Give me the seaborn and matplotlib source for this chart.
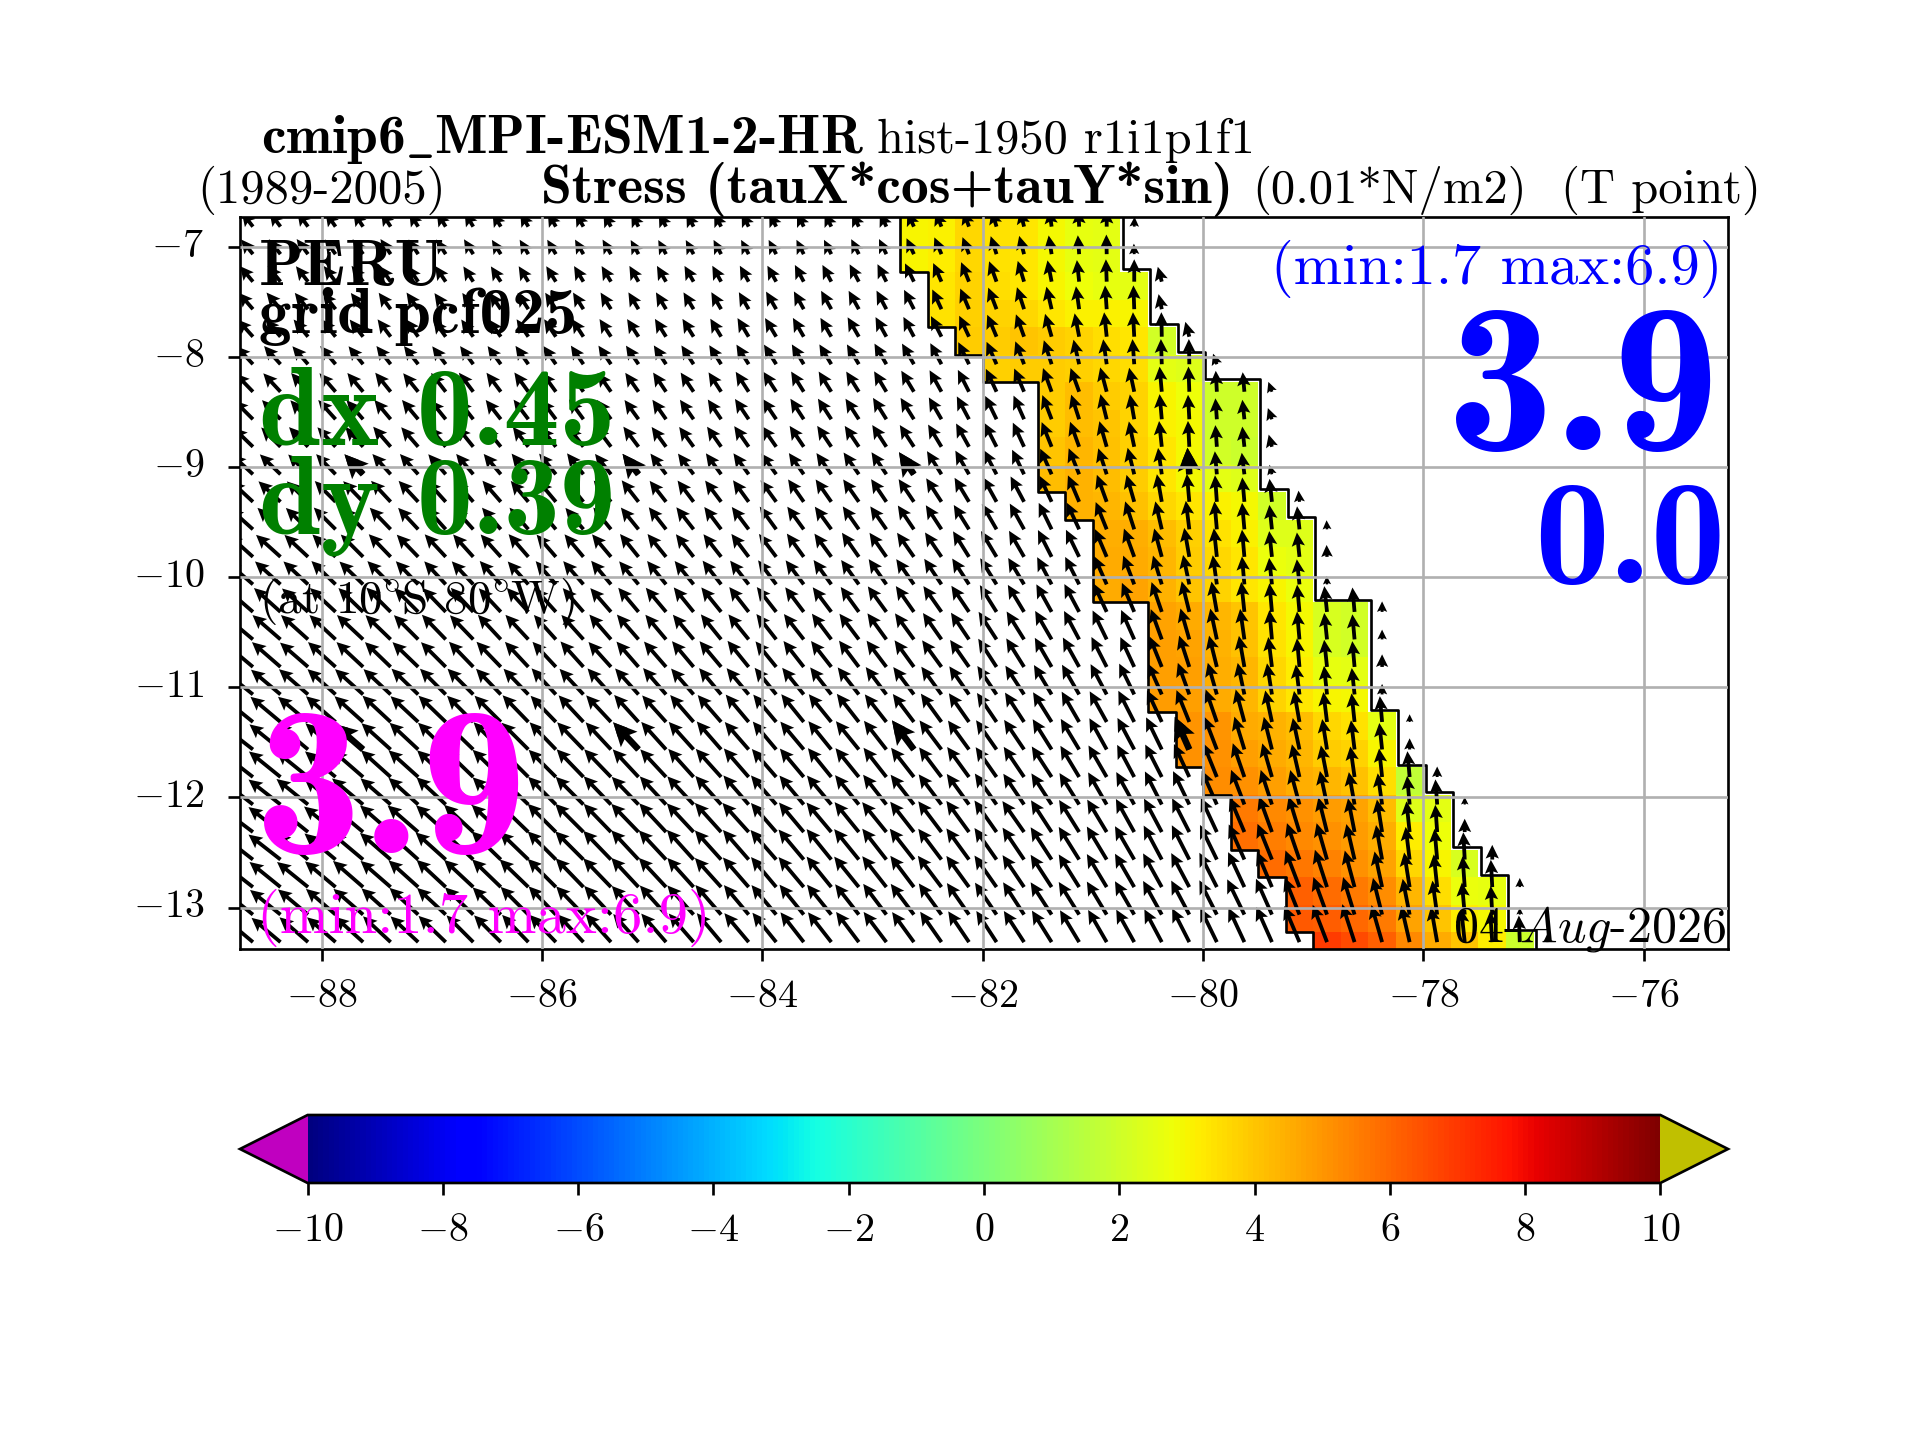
import numpy as np
import pandas as pd
import seaborn as sns
from matplotlib import pyplot as plt

lon_ticks = [-88, -86, -84, -82, -80, -78, -76]
lat_ticks = [-7, -8, -9, -10, -11, -12, -13]
cbar_ticks = [-10, -8, -6, -4, -2, 0, 2, 4, 6, 8, 10]

# first coloured column of each row (band is 8 cells wide)
band_start = [24, 24, 25, 25, 26, 27, 29, 29, 29, 29, 30, 31, 31, 31, 33, 33, 33, 33, 34, 34, 35, 36, 36, 37, 38, 38, 39]

# colour values, 0.01 N/m2
band_values = [
    [3.0, 3.1, 3.6, 3.4, 3.3, 2.9, 2.6, 2.5],
    [3.0, 3.2, 3.6, 3.4, 3.3, 2.9, 2.6, 2.5],
    [3.3, 3.7, 3.5, 3.3, 3.0, 2.8, 2.6, 2.5],
    [3.4, 3.8, 3.7, 3.6, 3.3, 3.1, 3.1, 3.0],
    [3.9, 3.9, 4.0, 3.9, 3.7, 3.5, 3.3, 2.1],
    [3.8, 3.9, 3.9, 3.8, 3.6, 3.5, 2.5, 2.4],
    [3.9, 4.2, 3.9, 3.7, 3.0, 2.8, 2.0, 2.0],
    [3.9, 4.2, 4.0, 3.7, 3.1, 2.9, 2.0, 2.0],
    [4.0, 4.3, 4.1, 3.8, 3.3, 2.9, 2.1, 1.9],
    [4.2, 4.4, 4.2, 3.9, 3.3, 2.9, 2.5, 2.4],
    [4.4, 4.3, 4.1, 3.6, 3.3, 3.1, 2.9, 2.1],
    [4.5, 4.5, 4.2, 3.8, 3.4, 3.1, 2.4, 2.4],
    [4.6, 4.6, 4.3, 3.9, 3.6, 3.3, 2.7, 2.5],
    [4.6, 4.7, 4.4, 4.0, 3.7, 3.3, 3.0, 2.7],
    [4.7, 4.6, 4.3, 4.0, 3.3, 2.9, 2.2, 2.1],
    [4.8, 4.7, 4.4, 4.1, 3.4, 3.0, 2.2, 2.1],
    [4.8, 4.8, 4.5, 4.3, 3.6, 3.2, 2.6, 2.5],
    [4.9, 4.8, 4.6, 4.3, 3.7, 3.3, 3.0, 2.9],
    [5.0, 5.0, 4.6, 4.4, 4.2, 3.6, 3.4, 2.5],
    [5.1, 5.1, 4.8, 4.6, 4.3, 3.9, 3.7, 3.0],
    [5.2, 5.1, 4.8, 4.5, 4.3, 4.1, 3.5, 1.7],
    [5.6, 5.3, 5.1, 4.9, 4.7, 4.2, 2.4, 2.5],
    [5.8, 5.5, 5.3, 5.1, 4.9, 4.5, 3.2, 2.8],
    [5.9, 5.7, 5.4, 5.1, 4.7, 3.6, 3.0, 2.2],
    [6.1, 5.9, 5.6, 5.2, 4.3, 3.5, 2.7, 2.6],
    [6.3, 6.2, 6.0, 5.6, 4.7, 4.0, 3.2, 2.9],
    [6.9, 6.6, 6.1, 5.3, 4.6, 4.0, 3.2, 1.9],
]

# arrow length per cell, tenths of 0.01 N/m2
speed_rows = [
    [26,26,26,25,25,25,24,24,24,23,23,23,23,22,22,22,22,22,22,22,22,22,22,22,23,23,24,24,24,24,24,24,14],
    [27,27,27,26,26,26,25,25,25,24,24,24,24,24,23,23,23,23,23,23,23,23,24,24,25,26,26,27,27,27,27,28,15],
    [29,29,28,28,28,27,27,27,26,26,26,26,26,26,26,26,26,26,26,26,27,27,28,28,29,29,30,31,31,31,31,32,32,22],
    [31,31,30,30,29,29,29,28,28,28,28,28,28,28,28,28,28,28,28,29,29,30,30,30,31,31,32,33,33,33,33,34,34,22],
    [33,33,32,32,31,31,31,30,30,30,30,30,30,30,30,30,30,30,31,31,31,31,32,32,32,33,33,34,34,34,34,35,35,35,22],
    [35,35,34,34,33,33,33,32,32,32,32,32,32,32,32,32,32,32,33,33,33,33,33,34,34,34,35,35,35,36,36,36,36,36,36,16],
    [36,36,36,35,35,35,34,34,34,34,34,34,33,33,33,33,33,33,34,34,34,34,34,34,35,35,35,36,36,36,36,36,35,36,36,30,28,15],
    [38,38,37,37,36,36,36,35,35,35,35,35,35,34,34,34,34,34,35,35,35,35,35,36,36,36,37,37,37,37,37,37,36,36,35,30,28,17],
    [39,39,39,38,38,38,37,37,37,36,36,36,36,36,36,35,35,35,36,36,36,36,36,37,37,37,38,38,38,38,38,38,37,37,37,31,29,18],
    [41,41,40,40,39,39,39,38,38,38,38,38,38,37,37,37,37,37,37,37,37,37,38,38,38,39,39,39,39,40,40,39,39,38,38,33,31,14],
    [43,43,42,42,41,41,41,40,40,40,39,39,39,39,39,38,38,38,38,38,39,39,39,39,39,40,40,40,41,41,41,41,40,40,40,38,35,33,16],
    [45,45,44,44,43,43,42,42,41,41,41,41,40,40,40,40,40,40,40,40,40,40,40,40,41,41,41,42,42,42,42,42,42,41,41,40,38,35,33,13],
    [47,47,46,46,45,45,44,44,43,43,43,42,42,42,42,42,41,41,41,41,41,41,42,42,42,42,43,43,43,43,43,43,43,42,42,41,39,37,35,17],
    [49,49,48,48,47,47,46,45,45,45,44,44,44,44,43,43,43,43,43,43,43,43,43,44,44,44,44,44,44,44,44,44,44,43,43,42,40,38,36,12],
    [51,51,50,50,49,49,48,47,47,46,46,46,45,45,45,45,45,45,45,45,44,44,44,45,45,45,45,45,45,45,45,45,45,45,45,44,43,41,39,37,35,15],
    [53,53,52,51,51,50,49,49,48,48,48,47,47,47,47,46,46,46,46,46,46,46,46,46,46,46,46,47,47,47,46,46,46,46,46,45,44,42,40,38,36,14],
    [54,54,53,53,52,51,51,50,50,50,49,49,49,48,48,48,48,48,48,47,47,47,47,47,47,47,47,48,48,48,48,48,47,47,47,46,45,43,41,39,37,18],
    [55,55,55,54,54,53,53,52,52,51,51,51,50,50,50,50,49,49,49,49,49,49,49,49,49,49,49,49,49,49,49,49,49,48,48,47,46,45,43,41,38,15],
    [56,56,56,56,55,55,54,54,53,53,53,52,52,52,52,51,51,51,51,51,51,51,51,50,50,50,50,50,50,50,50,50,50,50,49,49,48,46,45,43,41,37,11],
    [57,57,57,57,56,56,56,55,55,55,54,54,54,53,53,53,53,53,52,52,52,52,52,52,52,52,51,51,51,51,51,51,51,51,51,50,49,48,46,44,42,38,16],
    [58,58,58,57,57,57,57,56,56,56,56,55,55,55,54,54,54,54,54,53,53,53,53,53,53,53,53,52,52,52,52,52,52,52,52,52,51,50,48,46,44,41,37,15],
    [58,58,58,58,58,57,57,57,57,56,56,56,56,56,55,55,55,55,55,55,54,54,54,54,54,54,54,54,53,53,53,53,53,53,53,53,53,52,51,49,47,45,41,36,11],
    [58,58,58,58,58,58,58,57,57,57,57,57,57,56,56,56,56,56,56,55,55,55,55,55,55,55,55,55,54,54,54,54,54,54,54,54,54,54,53,51,49,47,44,39,19],
    [58,58,58,58,58,58,58,58,58,58,57,57,57,57,57,57,57,56,56,56,56,56,56,56,56,55,55,55,55,55,55,55,55,55,55,55,55,55,55,54,52,50,47,44,39,21],
    [57,57,57,57,57,57,57,57,57,57,57,57,57,57,57,57,56,56,56,56,56,56,56,56,56,56,55,55,55,55,55,55,55,55,55,55,55,55,56,56,54,52,50,47,44,39,13],
    [56,56,56,56,56,56,56,56,56,56,56,56,56,56,56,56,56,56,55,55,55,55,55,55,55,55,55,55,55,55,55,55,55,55,55,55,56,56,57,57,56,54,52,49,46,41,10],
    [54,54,54,54,54,54,54,54,54,54,54,54,54,54,54,54,54,54,54,54,54,54,54,54,53,53,53,53,53,53,53,53,53,53,54,54,54,55,56,57,57,55,53,51,48,44,38,12],
]

# arrow direction per cell, degrees west of north
angle_rows = [
    [38,37,36,35,34,33,32,32,31,31,30,30,29,29,28,28,28,27,27,27,26,26,26,25,24,22,20,17,14,8,3,0,-2],
    [39,38,37,36,35,34,33,33,32,32,31,31,30,30,29,29,29,28,28,28,27,27,27,26,25,23,21,18,15,9,4,1,2],
    [40,39,38,37,36,35,34,34,33,33,32,32,31,31,30,30,30,29,29,29,28,28,28,27,26,24,22,20,17,11,6,2,0,15],
    [41,40,39,38,37,36,35,35,34,34,33,33,32,32,31,31,31,30,30,30,29,29,29,28,27,25,23,21,18,13,8,4,2,12],
    [42,41,40,39,38,37,36,36,35,35,34,34,33,33,33,32,32,31,31,31,30,30,30,29,28,27,25,23,20,16,11,6,3,1,15],
    [43,42,41,40,39,38,38,37,36,36,35,35,34,34,34,33,33,32,32,32,31,31,31,30,30,28,26,24,21,18,13,8,4,2,1,20],
    [44,43,42,41,40,39,39,38,37,37,36,36,35,35,35,34,34,33,33,33,32,32,32,31,31,29,27,25,23,20,20,15,12,5,2,3,5,20],
    [45,44,43,42,41,40,40,39,38,38,37,37,36,36,36,35,35,34,34,34,33,33,33,32,32,30,28,26,24,21,18,14,10,5,3,4,6,20],
    [46,45,44,43,42,41,41,40,39,39,38,38,37,37,37,36,36,35,35,35,34,34,34,33,33,31,29,27,25,22,20,16,12,6,3,4,6,15],
    [47,46,45,44,43,42,42,41,40,40,39,39,38,38,38,37,37,36,36,36,35,35,35,34,34,32,30,28,26,24,22,18,14,8,4,5,7,15],
    [47,47,46,45,44,43,43,42,41,41,40,40,39,39,38,38,37,37,36,36,35,35,35,34,34,33,31,29,28,25,23,20,16,10,5,4,5,6,5],
    [48,47,46,45,44,44,43,42,42,41,41,40,40,39,39,38,38,37,37,36,36,36,35,35,34,33,32,30,29,26,25,22,18,13,7,5,5,6,6,3],
    [48,48,47,46,45,44,44,43,42,42,41,41,40,40,39,39,38,38,37,37,36,36,35,35,35,34,32,31,30,27,26,23,20,15,10,6,5,6,6,2],
    [49,48,47,46,46,45,44,43,43,42,42,41,41,40,40,39,39,38,38,37,37,36,36,35,35,34,33,32,31,28,27,24,21,17,12,8,5,6,6,2],
    [49,48,48,47,46,45,45,44,43,43,42,42,41,41,40,40,39,39,38,38,37,37,36,36,35,35,34,32,31,29,28,25,23,19,14,10,6,5,5,6,5,0],
    [50,49,48,47,47,46,45,44,44,43,43,42,42,41,41,40,40,39,39,38,38,37,37,36,36,35,34,33,32,30,28,26,24,20,16,12,8,5,5,6,5,0],
    [50,49,49,48,47,46,46,45,44,44,43,43,42,42,41,41,40,40,39,39,38,38,37,37,36,36,35,33,32,30,29,27,25,22,18,14,10,7,5,6,5,0],
    [51,50,49,48,48,47,46,45,45,44,44,43,43,42,42,41,41,40,40,39,39,38,38,37,37,36,35,34,33,31,30,28,26,24,20,16,12,9,7,6,6,0],
    [51,50,50,49,48,47,47,46,45,45,44,44,43,43,42,42,41,41,40,40,39,39,38,38,37,36,35,34,33,32,30,29,27,25,22,19,15,12,10,7,6,5,0],
    [52,51,50,49,49,48,47,46,46,45,45,44,44,43,43,42,42,41,41,40,40,39,39,38,37,37,36,35,34,32,31,29,28,26,24,21,17,14,12,9,7,6,0],
    [52,51,51,50,49,48,48,47,46,46,45,45,44,44,43,43,42,42,41,41,40,39,39,38,38,37,36,35,34,33,31,30,28,27,25,22,19,16,13,11,8,6,5,0],
    [52,52,51,50,50,49,48,47,47,46,46,45,45,44,44,43,43,42,41,41,40,40,39,38,38,37,36,35,34,33,32,30,29,27,26,24,21,18,15,12,10,8,5,4,0],
    [53,52,51,51,50,49,49,48,47,47,46,45,45,44,44,43,43,42,42,41,40,40,39,39,38,37,36,35,35,33,32,31,29,28,27,25,23,20,17,14,11,9,6,4,0],
    [52,52,51,50,50,49,48,48,47,46,46,45,45,44,43,43,42,42,41,41,40,39,39,38,38,37,36,35,34,33,32,31,30,28,27,26,24,22,19,16,13,10,7,5,3,0],
    [52,51,51,50,49,49,48,47,47,46,46,45,44,44,43,43,42,42,41,40,40,39,39,38,37,37,36,35,34,33,32,31,30,29,28,27,25,23,21,18,15,12,9,6,4,3,0],
    [51,51,50,49,49,48,47,47,46,46,45,44,44,43,43,42,42,41,40,40,39,39,38,37,37,36,35,34,33,33,32,31,30,29,28,27,26,24,22,20,17,14,11,8,5,3,0],
    [50,50,49,49,48,47,47,46,45,45,44,44,43,42,42,41,41,40,40,39,38,38,37,37,36,35,34,33,33,32,31,30,29,28,27,26,25,24,23,21,18,16,13,10,6,4,2,0],
]

# every 10th arrow is drawn again, heavier
coarse_cols = [4, 14, 24, 34]
coarse_rows = [9, 19]

n_rows, n_cols = len(band_start), 54
grid = np.full((n_rows, n_cols), np.nan)
for r, (start, vals) in enumerate(zip(band_start, band_values)):
    grid[r, start:start + len(vals)] = vals
frame = pd.DataFrame(grid)

sns.set_theme(style='ticks', rc={
    'axes.linewidth': 0.8, 'axes.edgecolor': 'black', 'text.color': 'black',
    'xtick.color': 'black', 'ytick.color': 'black', 'xtick.major.width': 0.8,
    'ytick.major.width': 0.8, 'xtick.major.size': 3.5, 'ytick.major.size': 3.5,
    'grid.linewidth': 0.8, 'grid.color': '#b0b0b0', 'mathtext.fontset': 'cm',
    'axes.formatter.use_mathtext': True,
})
plt.rcParams['font.family'] = ['cmr10', 'DejaVu Sans']

W, H = 1920, 1440
fig = plt.figure(figsize=(8, 6), dpi=240)
ax = fig.add_axes([240 / W, 1 - 949 / H, (1728 - 240) / W, (949 - 217) / H])
cax = fig.add_axes([240 / W, 1 - 1183 / H, (1728 - 240) / W, (1183 - 1115) / H])

cmap = plt.get_cmap('jet').copy()
cmap.set_under('#c000c0')
cmap.set_over('#c0c000')

sns.heatmap(frame, ax=ax, cbar_ax=cax, cmap=cmap, vmin=-10, vmax=10,
            cbar_kws={'orientation': 'horizontal', 'extend': 'both', 'extendfrac': 0.05, 'ticks': cbar_ticks})

cb = ax.collections[0].colorbar
cb.outline.set_linewidth(0.8)
cb.outline.set_edgecolor('black')
cb.ax.set_xticklabels(['$%d$' % t for t in cbar_ticks], fontsize=12)
cb.ax.tick_params(axis='x', length=3.5, width=0.8, pad=5.5)

# coast outline along the band
for offset, shift_x, shift_y in ((0, 0, 0), (8, 0.08, -0.1)):
    xs, ys = [], []
    for r, start in enumerate(band_start):
        xs += [start + offset + shift_x, start + offset + shift_x]
        ys += [r + shift_y, r + 1 + shift_y]
    ax.plot(xs, ys, color='black', lw=0.8, zorder=2)

# arrows
cx, cy, uu, vv = [], [], [], []
hx, hy, hu, hv = [], [], [], []
for r, (speeds, angles) in enumerate(zip(speed_rows, angle_rows)):
    for c, (s, a) in enumerate(zip(speeds, angles)):
        u = -s / 10 * np.sin(np.radians(a))
        v = s / 10 * np.cos(np.radians(a))
        cx.append(c + 0.5)
        cy.append(r + 0.35)
        uu.append(u)
        vv.append(v)
        if r in coarse_rows and c in coarse_cols:
            hx.append(c + 0.5)
            hy.append(r + 0.35)
            hu.append(u)
            hv.append(v)

arrow_scale = 240 / 7
ax.quiver(cx, cy, uu, vv, angles='uv', units='dots', width=3.8, scale_units='inches', scale=arrow_scale,
          headwidth=3.5, headlength=3.6, headaxislength=3.1, color='black', zorder=1.5)
ax.quiver(hx, hy, hu, hv, angles='uv', units='dots', width=6.5, scale_units='inches', scale=arrow_scale,
          headwidth=3.5, headlength=3.6, headaxislength=3.1, color='black', zorder=1.5)

ax.set_xlim(0.03, 54.06)
ax.set_ylim(26.6, 0)
ax.set_xticks([(lon + 88.75) * 4 for lon in lon_ticks])
ax.set_xticklabels(['$%d$' % t for t in lon_ticks], rotation=0, fontsize=12)
ax.set_yticks([(-6.727 - lat) * 4 for lat in lat_ticks])
ax.set_yticklabels(['$%d$' % t for t in lat_ticks], rotation=0, va='center', fontsize=12)
ax.tick_params(axis='x', length=3.5, width=0.8, pad=5.5)
ax.tick_params(axis='y', length=3.5, width=0.8, pad=7.3)
ax.grid(True)
ax.set_axisbelow(False)
for spine in ax.spines.values():
    spine.set_visible(True)
    spine.set_linewidth(0.8)
    spine.set_color('black')


def put(x, y, s, size, font='cmr10', color='black', ha='left'):
    fig.text(x / W, 1 - y / H, s, fontsize=size, family=[font, 'DejaVu Sans'], color=color, ha=ha, va='baseline')


put(261, 153, r'cmip6$\_$MPI-ESM1-2-HR', 16.6, 'cmb10')
put(877, 153, 'hist-1950 r1i1p1f1', 14.5)
put(197, 203, '(1989-2005)', 14.6)
put(541, 203, 'Stress (tauX*cos+tauY*sin)', 16.7, 'cmb10')
put(1252, 203, '(0.01*N/m2)', 14.6)
put(1561, 203, '(T point)', 14.6)

put(259, 285, 'PERU', 19.5, 'cmb10')
put(259, 333, 'grid pcf025', 19.5, 'cmb10')
put(259, 445, 'dx 0.45', 33.5, 'cmb10', 'green')
put(259, 533, 'dy 0.39', 33.5, 'cmb10', 'green')
put(259, 613, r'(at 10$\!^\circ\!$S 80$\!^\circ\!$W)', 14.2)
put(255, 853, '3.9', 64, 'cmb10', 'magenta')
put(257, 933, '(min:1.7 max:6.9)', 17.6, color='magenta')

put(1722, 284, '(min:1.7 max:6.9)', 17.5, color='blue', ha='right')
put(1719, 450, '3.9', 64, 'cmb10', 'blue', ha='right')
put(1726, 583, '0.0', 45, 'cmb10', 'blue', ha='right')
put(1726, 942, r'$\mathit{04}$-$\mathit{Aug}$-$\mathit{2026}$', 15, ha='right')

fig.savefig('out.png', dpi=240)
